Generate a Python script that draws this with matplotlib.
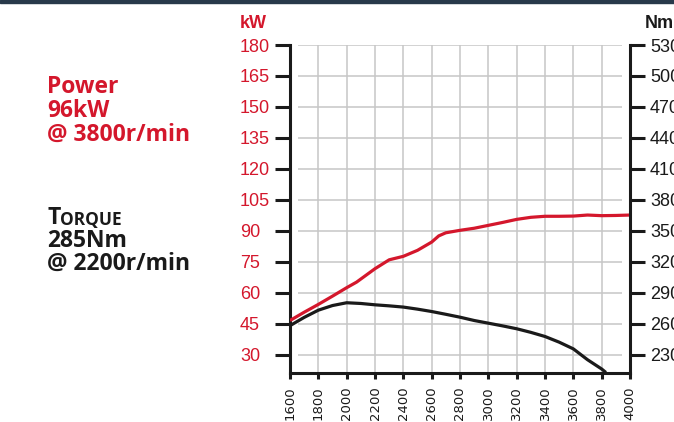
import matplotlib
matplotlib.use('Agg')
import matplotlib.pyplot as plt
from matplotlib.patches import Rectangle
import numpy as np

# engine speed (r/min)
rpm_power = [1600, 1700, 1800, 1900, 2000, 2070, 2200, 2300, 2400, 2500, 2600, 2650, 2700,
             2800, 2900, 3000, 3100, 3200, 3300, 3400, 3500, 3600, 3700, 3800, 3900, 4000]
power_kw = [46.5, 50.5, 54.3, 58.3, 62.4, 65.1, 71.6, 75.9, 77.6, 80.5, 84.5, 87.5, 89.0,
            90.2, 91.2, 92.6, 94.0, 95.5, 96.5, 97.0, 97.0, 97.1, 97.6, 97.3, 97.4, 97.6]

rpm_torque = [1600, 1700, 1800, 1900, 2000, 2100, 2200, 2300, 2400, 2500, 2600, 2700, 2800,
              2900, 3000, 3100, 3200, 3300, 3400, 3500, 3600, 3700, 3800, 3830]
torque_nm = [258, 266, 273, 277.5, 280.2, 279.5, 278.2, 277.2, 276, 274, 271.7, 269, 266.2,
             263, 260.4, 257.8, 255, 251.5, 247.5, 242, 235.5, 225, 216, 212.6]

x_ticks = list(range(1600, 4001, 200))
kw_ticks = list(range(30, 181, 15))
nm_ticks = list(range(230, 531, 30))

red = '#d4172c'
black = '#1a1a1a'
grid_c = '#c6c6c6'

W, H = 674, 422
fig = plt.figure(figsize=(W / 100, H / 100), dpi=100)
fig.patches.append(Rectangle((0, 1 - 3 / H), 1, 3 / H, transform=fig.transFigure,
                             color='#28394a', zorder=0))

ax = fig.add_axes([290 / W, (H - 372.5) / H, 340 / W, 327.5 / H])
ax.set_xlim(1600, 4000)
kw_bottom = 21.3
ax.set_ylim(kw_bottom, 180)
ax.patch.set_visible(False)

# grid
ax.vlines(x_ticks[1:-1], kw_bottom, 180, color=grid_c, lw=1.1, zorder=1)
ax.hlines(kw_ticks, 1656, 3944, color=grid_c, lw=1.1, zorder=1)

ax.plot(rpm_power, power_kw, color=red, lw=2.3, zorder=3, solid_capstyle='butt')

ax2 = ax.twinx()
ax2.set_ylim(2 * kw_bottom + 170, 530)
ax2.plot(rpm_torque, torque_nm, color=black, lw=2.3, zorder=3, solid_capstyle='butt')

for a in (ax, ax2):
    for s in a.spines.values():
        s.set_linewidth(2.2)
        s.set_color(black)
        s.set_capstyle('projecting')
    a.spines['top'].set_visible(False)
ax.spines['right'].set_visible(False)
ax2.spines['left'].set_visible(False)
ax2.spines['bottom'].set_visible(False)

ax.set_xticks(x_ticks)
ax.set_xticklabels([str(v) for v in x_ticks], rotation=90, fontsize=9.5,
                   family='DejaVu Sans', color=black)
ax.tick_params(axis='x', direction='out', length=4.5, width=2.2, color=black, pad=5.5)

ax.set_yticks(kw_ticks)
ax.set_yticklabels([str(v) for v in kw_ticks], fontsize=13, family='Liberation Sans')
ax.tick_params(axis='y', direction='out', length=10.8, width=2.2, color=black,
               labelcolor=red, pad=25.2)
for lbl in ax.get_yticklabels():
    lbl.set_ha('left')

ax2.set_yticks(nm_ticks)
ax2.set_yticklabels([str(v) for v in nm_ticks], fontsize=13, family='Liberation Sans')
ax2.tick_params(axis='y', direction='out', length=10.8, width=2.2, color=black,
                labelcolor=black, pad=3.6)

# unit labels
fig.text(240 / W, 1 - 28 / H, 'kW', color=red, fontsize=13, fontweight='bold',
         family='Liberation Sans', va='baseline', ha='left')
fig.text(645 / W, 1 - 28 / H, 'Nm', color=black, fontsize=13, fontweight='bold',
         family='Liberation Sans', va='baseline', ha='left')

# headline text
tf = dict(fontsize=16.5, fontweight='bold', family='Open Sans', va='baseline', ha='left')
fig.text(47 / W, 1 - 93 / H, 'Power', color=red, **tf)
fig.text(47 / W, 1 - 117 / H, '96kW', color=red, **tf)
fig.text(47 / W, 1 - 141 / H, '@ 3800r/min', color=red, **tf)

t = fig.text(47 / W, 1 - 223.5 / H, 'T', color=black, **tf)
small = dict(tf)
small['fontsize'] = 12.5
small['va'] = 'bottom'
ann = plt.annotate('ORQUE', xy=(1, 0), xycoords=t, color=black, annotation_clip=False, **small)
fig.text(47 / W, 1 - 246.7 / H, '285Nm', color=black, **tf)
fig.text(47 / W, 1 - 270 / H, '@ 2200r/min', color=black, **tf)

fig.savefig('out.png', dpi=100)
